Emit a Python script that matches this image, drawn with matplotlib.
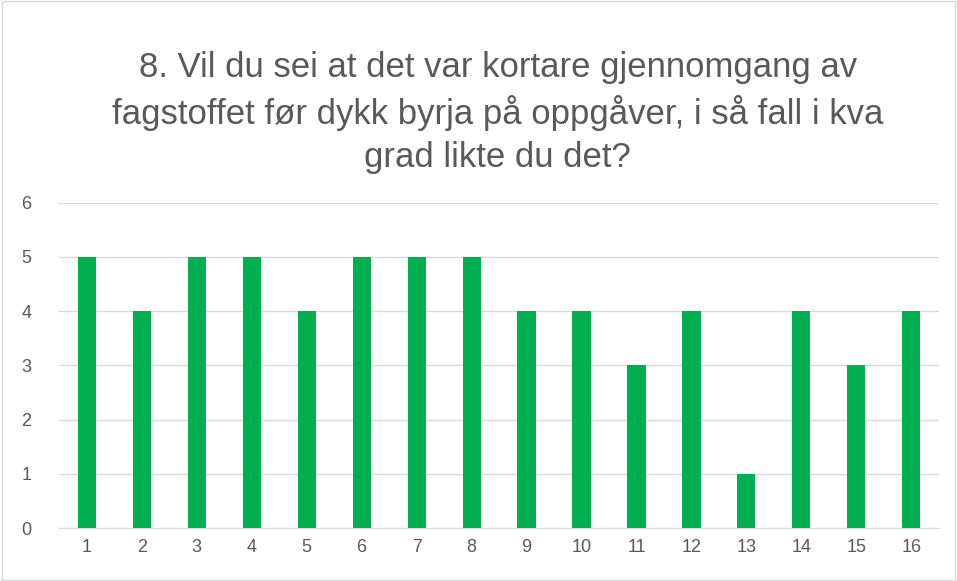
import matplotlib.pyplot as plt
from matplotlib.patches import Rectangle

# ---------- Data ----------
respondents = [str(i) for i in range(1, 17)]
scores = [5, 4, 5, 5, 4, 5, 5, 5, 4, 4, 3, 4, 1, 4, 3, 4]
yticks = [0, 1, 2, 3, 4, 5, 6]
title = ("8. Vil du sei at det var kortare gjennomgang av\n"
         "fagstoffet før dykk byrja på oppgåver, i så fall i kva\n"
         "grad likte du det?")

plt.rcParams['font.family'] = ['Liberation Sans', 'DejaVu Sans']

fig = plt.figure(figsize=(9.57, 5.81), dpi=100, facecolor='white')
ax = fig.add_axes([0.062, 0.0912, 0.919, 0.56])

x = range(len(respondents))
ax.bar(x, scores, width=0.33, color='#00B050', zorder=3)

ax.set_xlim(-0.5, len(respondents) - 0.5)
ax.set_ylim(0, 6)
ax.set_yticks(yticks)
ax.set_xticks(list(x))
ax.set_xticklabels(respondents)
ax.grid(axis='y', color='#D9D9D9', linewidth=1, zorder=0)
for side in ['top', 'right', 'left']:
    ax.spines[side].set_visible(False)
ax.spines['bottom'].set_color('#D9D9D9')
ax.tick_params(axis='both', length=0, labelsize=13, colors='#595959', pad=8)
ax.tick_params(axis='y', pad=20)

fig.text(0.52, 0.912, title, ha='center', va='top', fontsize=25,
         color='#595959', linespacing=1.38)

# thin chart border
fig.patches.append(Rectangle((0.002, 0.002), 0.996, 0.996, transform=fig.transFigure,
                             fill=False, edgecolor='#D9D9D9', linewidth=1))

fig.savefig('out.png', dpi=100)
